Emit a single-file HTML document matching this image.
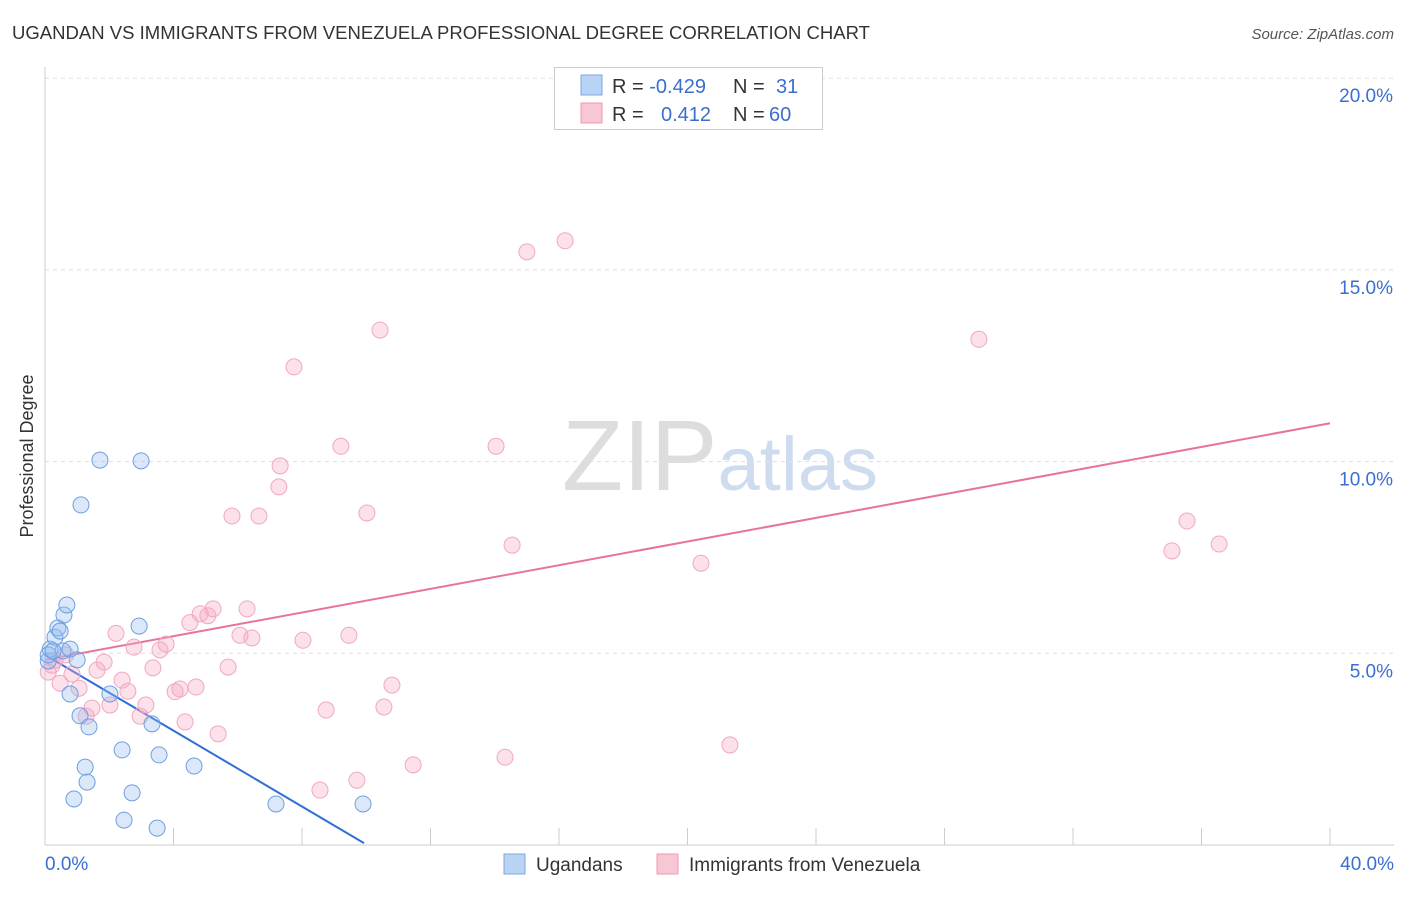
<!DOCTYPE html>
<html><head><meta charset="utf-8"><style>
body{margin:0;background:#fff;font-family:"Liberation Sans",sans-serif}
svg text{font-family:"Liberation Sans",sans-serif}
</style></head><body>
<svg id="chart" width="1406" height="892" viewBox="0 0 1406 892" xmlns="http://www.w3.org/2000/svg">
<text x="12" y="39" font-size="18" fill="#333" textLength="858" lengthAdjust="spacingAndGlyphs">UGANDAN VS IMMIGRANTS FROM VENEZUELA PROFESSIONAL DEGREE CORRELATION CHART</text>
<text x="1394" y="39" font-size="15" fill="#555" text-anchor="end" font-style="italic">Source: ZipAtlas.com</text>
<text x="720" y="490" font-size="100" text-anchor="middle" fill="#ddd" font-family="Liberation Serif"><tspan fill="#ddd">ZIP</tspan><tspan fill="#cfdcf0" font-family="Liberation Sans" font-size="76">atlas</tspan></text>
<text transform="translate(33,456) rotate(-90)" font-size="18" fill="#333" text-anchor="middle">Professional Degree</text>
<g id="grid"></g><g id="axes"></g><g id="lines"></g><g id="pts"></g>
<g>
<rect x="554.5" y="67.5" width="268" height="62" fill="#fff" stroke="#ccc"/>
<rect x="581" y="75" width="21" height="20" fill="#b9d3f5" stroke="#7ea7e0"/>
<rect x="581" y="103" width="21" height="20" fill="#f9c6d4" stroke="#ee9ab2"/>
<text x="612" y="93" font-size="20" fill="#333">R = <tspan fill="#3a6fcf">-0.429</tspan><tspan x="733">N = </tspan><tspan x="776" fill="#3a6fcf">31</tspan></text>
<text x="612" y="121" font-size="20" fill="#333">R = <tspan x="661" fill="#3a6fcf">0.412</tspan><tspan x="733">N = </tspan><tspan x="769" fill="#3a6fcf">60</tspan></text>
</g>
<g>
<rect x="504" y="854" width="21" height="20" fill="#b9d3f5" stroke="#7ea7e0"/>
<text x="536" y="871" font-size="19" fill="#333">Ugandans</text>
<rect x="657" y="854" width="21" height="20" fill="#f9c6d4" stroke="#ee9ab2"/>
<text x="689" y="871" font-size="19" fill="#333">Immigrants from Venezuela</text>
</g>
</svg>
<script>
const yTicks=[5,10,15,20];
const xTickLabels=["0.0%","40.0%"];
const blueX=[0.1,0.16,0.31,0.4,0.47,0.56,0.59,0.68,0.78,1.0,0.1,0.25,0.78,1.09,1.37,1.71,2.99,1.12,2.93,2.02,3.33,2.4,3.55,1.25,1.31,4.64,0.9,2.71,2.46,3.49,7.19,9.9];
const blueY=[4.8,5.11,5.42,5.66,5.58,5.06,6.0,6.26,5.11,4.83,4.96,5.06,3.94,3.37,3.08,10.04,10.02,8.87,5.71,3.94,3.16,2.48,2.35,2.03,1.64,2.06,1.2,1.36,0.65,0.44,1.07,1.07];
const pinkX=[0.1,0.22,0.31,0.47,0.65,0.84,1.06,1.28,1.46,1.62,1.84,2.02,2.21,2.4,2.58,2.77,2.96,3.14,3.36,3.58,3.77,4.05,4.2,4.36,4.7,4.51,4.83,5.07,5.23,5.39,5.7,5.82,6.07,6.29,6.44,6.66,7.28,7.32,7.75,8.03,8.56,8.75,9.21,9.46,9.71,10.02,10.43,10.55,10.8,11.46,14.04,14.32,14.54,15.0,16.19,20.42,21.32,29.07,35.08,35.55,36.55];
const pinkY=[4.51,4.69,4.82,4.22,4.96,4.46,4.09,3.36,3.57,4.56,4.77,3.65,5.52,4.3,4.01,5.16,3.36,3.65,4.62,5.09,5.24,4.0,4.07,3.21,4.12,5.8,6.03,5.98,6.16,2.9,4.64,8.58,5.47,6.16,5.4,8.58,9.34,9.89,12.47,5.34,1.43,3.52,10.4,5.47,1.69,8.66,13.43,3.6,4.17,2.09,10.4,2.29,7.82,15.47,15.76,7.35,2.61,13.19,7.67,8.45,7.85];
const blueLine=[4.96,0.05,9.93];
const pinkLine=[4.83,11.0,40];
const NS="http://www.w3.org/2000/svg";
const X=v=>45+v*32.125, Y=v=>845-v*38.34;
function mk(tag,attrs,parent){const e=document.createElementNS(NS,tag);for(const k in attrs)e.setAttribute(k,attrs[k]);document.getElementById(parent).appendChild(e);return e;}
yTicks.forEach(t=>{
 const g=mk('line',{x1:45,x2:1394,y1:Y(t),y2:Y(t),stroke:'#ddd','stroke-dasharray':'4,4'},'grid');
 
 
 const tx=mk('text',{x:1393,y:Y(t)+24,'font-size':19,fill:'#3a6fcf','text-anchor':'end'},'grid');
 tx.textContent=t.toFixed(1)+'%';
 
 
});
const ax=mk('line',{x1:45,x2:45,y1:67,y2:845,stroke:'#ccc'},'axes');


const bx=mk('line',{x1:45,x2:1394,y1:845,y2:845,stroke:'#ccc'},'axes');


for(let i=4;i<=40;i+=4){const t=mk('line',{x1:X(i),x2:X(i),y1:828,y2:845,stroke:'#ccc'},'axes');
 
 }
[[0,'start',45],[40,'end',1394]].forEach((d,i)=>{const t=mk('text',{x:d[2],y:870,'font-size':19,fill:'#3a6fcf','text-anchor':d[1]},'axes');t.textContent=xTickLabels[i];
 
 });
pinkX.forEach((x,i)=>{const c=mk('circle',{cx:X(x),cy:Y(pinkY[i]),r:8,fill:'rgba(245,170,195,0.35)',stroke:'#f0a8c0','stroke-width':1},'pts');
 
 });
blueX.forEach((x,i)=>{const c=mk('circle',{cx:X(x),cy:Y(blueY[i]),r:8,fill:'rgba(150,190,240,0.35)',stroke:'#6f9fe0','stroke-width':1},'pts');
 
 });
const bl=mk('line',{x1:X(0),y1:Y(blueLine[0]),x2:X(blueLine[2]),y2:Y(blueLine[1]),stroke:'#2f6fd6','stroke-width':2},'lines');


const pl=mk('line',{x1:X(0),y1:Y(pinkLine[0]),x2:X(pinkLine[2]),y2:Y(pinkLine[1]),stroke:'#e8739a','stroke-width':2},'lines');


</script>
</body></html>
